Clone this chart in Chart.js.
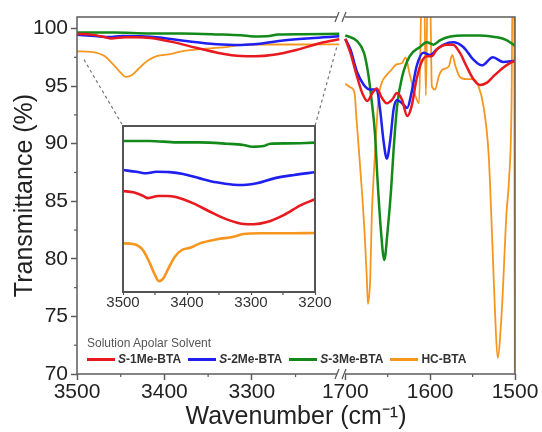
<!DOCTYPE html>
<html lang="en">
<head>
<meta charset="UTF-8">
<title>FTIR Transmittance</title>
<script src="https://cdn.jsdelivr.net/npm/chart.js"></script>
<style>
  body { margin: 0; background: #fff; }
  .wrap { position: relative; width: 542px; height: 432px; font-family: "Liberation Sans", Arial, sans-serif; }
  #mainChart { position: absolute; left: 0; top: 0; }
  #insetChart { position: absolute; left: 103px; top: 120px; }
  .legend { position: absolute; left: 87px; top: 335px; color: #333; }
  .legend-title { font-size: 12px; line-height: 16px; color: #555; }
  .legend-row { display: flex; align-items: center; font-size: 12px; line-height: 16px; font-weight: bold; }
  .legend-item { display: flex; align-items: center; margin-right: 7px; }
  .legend-line { width: 28px; height: 3px; margin-right: 3px; }
</style>
</head>
<body>
<div class="wrap">
  <canvas id="mainChart" width="542" height="432"></canvas>
  <canvas id="insetChart" width="232" height="200"></canvas>
  <div class="legend">
    <div class="legend-title">Solution Apolar Solvent</div>
    <div class="legend-row" id="legendRow"></div>
  </div>
</div>

<script>
const FONT = '"Liberation Sans", Arial, sans-serif';

const seriesNames = ['S-1Me-BTA', 'S-2Me-BTA', 'S-3Me-BTA', 'HC-BTA'];
const seriesColors = ['#e8191f', '#1f1fef', '#13891a', '#f7961f'];

// 3500-3200 cm-1 (also shown in the inset)
const redLeftX = [3500, 3484, 3469, 3461, 3445, 3432, 3416, 3390, 3364, 3338, 3312, 3296, 3275, 3249, 3222, 3200];
const redLeftY = [99.55, 99.47, 99.27, 99.13, 99.25, 99.25, 99.18, 98.82, 98.33, 97.88, 97.61, 97.59, 97.72, 98.13, 98.72, 99.06];
const blueLeftX = [3500, 3479, 3463, 3448, 3427, 3406, 3380, 3354, 3327, 3312, 3291, 3264, 3233, 3200];
const blueLeftY = [99.45, 99.35, 99.26, 99.35, 99.33, 99.22, 98.96, 98.73, 98.59, 98.57, 98.67, 98.96, 99.16, 99.32];
const greenLeftX = [3500, 3458, 3416, 3380, 3338, 3312, 3298, 3280, 3270, 3243, 3200];
const greenLeftY = [99.65, 99.65, 99.57, 99.57, 99.49, 99.41, 99.31, 99.35, 99.49, 99.51, 99.55];
const orangeLeftX = [3500, 3484, 3469, 3458, 3450, 3444, 3437, 3429, 3419, 3408, 3395, 3380, 3353, 3327, 3312, 3285, 3249, 3200];
const orangeLeftY = [98.02, 97.98, 97.63, 96.84, 96.16, 95.80, 95.96, 96.55, 97.23, 97.63, 97.76, 98.02, 98.26, 98.41, 98.57, 98.61, 98.61, 98.63];

// 1700-1500 cm-1
const redRightX = [1700, 1694, 1686, 1680, 1674, 1668, 1663, 1657, 1651, 1645, 1639, 1633, 1627, 1622, 1616, 1610, 1604, 1598, 1592, 1580, 1573, 1565, 1557, 1549, 1541, 1533, 1526, 1514, 1506, 1500];
const redRightY = [99.1, 97.9, 95.8, 94.4, 93.7, 94.4, 94.8, 94.0, 93.5, 93.8, 94.4, 93.8, 92.4, 93.2, 95.6, 97.1, 97.6, 97.6, 98.2, 98.6, 98.6, 97.9, 96.7, 95.6, 95.1, 95.3, 95.8, 96.6, 97.0, 97.2];
const blueRightX = [1700, 1694, 1686, 1678, 1671, 1663, 1659, 1655, 1651, 1647, 1643, 1639, 1633, 1627, 1622, 1616, 1608, 1600, 1592, 1584, 1573, 1561, 1549, 1539, 1526, 1514, 1500];
const blueRightY = [99.1, 98.2, 96.2, 95.1, 94.7, 94.7, 93.0, 90.3, 88.7, 90.3, 93.0, 93.8, 93.5, 93.1, 94.4, 96.7, 97.9, 97.7, 98.2, 98.6, 98.8, 98.4, 97.3, 96.8, 97.5, 97.1, 97.2];
const greenRightX = [1700, 1686, 1678, 1673, 1669, 1665, 1662, 1658, 1654, 1650, 1646, 1643, 1639, 1633, 1624, 1612, 1604, 1596, 1588, 1576, 1561, 1541, 1522, 1510, 1500];
const greenRightY = [99.4, 98.9, 97.9, 96.1, 93.8, 90.9, 86.9, 82.5, 79.9, 82.5, 86.0, 89.5, 93.2, 95.8, 97.6, 98.4, 98.8, 98.6, 99.0, 99.3, 99.4, 99.4, 99.25, 99.0, 98.5];
const orangeRightX = [1700, 1694, 1689, 1687, 1684, 1680, 1677, 1674.5, 1673.3, 1670.6, 1668.6, 1666.7, 1664.7, 1661, 1657, 1653, 1647, 1639, 1633, 1629, 1624, 1618, 1613, 1610, 1607, 1605, 1603, 1600, 1598, 1594, 1590, 1586, 1578, 1574, 1570, 1565, 1557, 1549, 1543, 1537, 1531, 1527, 1523.5, 1520.5, 1515.7, 1510, 1507, 1504, 1503, 1501, 1500];
const orangeRightY = [95.2, 94.9, 94.4, 92.4, 89.5, 85.5, 82.0, 78.2, 76.1, 78.2, 84.0, 86.9, 89.5, 93.8, 95.3, 95.8, 96.3, 96.9, 97.0, 97.5, 96.0, 94.3, 93.5, 103, 103, 94.2, 103, 103, 95.0, 94.7, 95.8, 96.4, 96.7, 97.7, 96.7, 95.8, 95.6, 95.6, 95.0, 93.2, 89.0, 82.0, 75.3, 71.4, 75.3, 84.0, 86.9, 93.8, 103, 103, 60];

// inset spreads the curves apart
const insetShift = [-3.37, -2.04, -0.53, -4.92];

// ticks
const yTicks = [70, 75, 80, 85, 90, 95, 100];
const yMinorTicks = [72.5, 77.5, 82.5, 87.5, 92.5, 97.5];
const leftTicks = [3500, 3400, 3300];
const leftMinorTicks = [3450, 3350, 3250];
const rightTicks = [1700, 1600, 1500];
const rightMinorTicks = [1650, 1550];
const insetTicks = [3500, 3400, 3300, 3200];
const insetMinorTicks = [3450, 3350, 3250];

// where the dashed zoom lines start on the main plot
const zoomLinkFrom = [[3492, 97.3], [3203, 98.35]];

const leftX = [redLeftX, blueLeftX, greenLeftX, orangeLeftX];
const leftY = [redLeftY, blueLeftY, greenLeftY, orangeLeftY];
const rightX = [redRightX, blueRightX, greenRightX, orangeRightX];
const rightY = [redRightY, blueRightY, greenRightY, orangeRightY];

function points(xs, ys, shift) {
    return xs.map((x, i) => ({ x: x, y: ys[i] + (shift || 0) }));
}

function fixedTicks(values) {
    return scale => { scale.ticks = values.map(v => ({ value: v })); };
}

function minorTicksX(ctx, scale, values, y, len) {
    values.forEach(v => {
        const px = scale.getPixelForValue(v);
        ctx.beginPath();
        ctx.moveTo(px, y);
        ctx.lineTo(px, y + len);
        ctx.stroke();
    });
}

// legend (HTML so the S can be italic)
const legendRow = document.getElementById('legendRow');
seriesNames.forEach((name, i) => {
    const item = document.createElement('div');
    item.className = 'legend-item';
    const line = document.createElement('span');
    line.className = 'legend-line';
    line.style.background = seriesColors[i];
    const text = document.createElement('span');
    if (name.startsWith('S-')) {
        text.innerHTML = '<i>S</i>' + name.slice(1);
    } else {
        text.textContent = name;
    }
    item.appendChild(line);
    item.appendChild(text);
    legendRow.appendChild(item);
});

// ---------- inset ----------
const insetFrame = {
    id: 'insetFrame',
    afterDatasetsDraw(chart) {
        const { ctx, chartArea: a } = chart;
        ctx.save();
        ctx.strokeStyle = '#555';
        ctx.lineWidth = 2;
        ctx.strokeRect(a.left, a.top, a.width, a.height);
        ctx.lineWidth = 1.2;
        minorTicksX(ctx, chart.scales.x, insetMinorTicks, a.bottom, 3);
        ctx.restore();
    }
};

const insetChart = new Chart(document.getElementById('insetChart'), {
    type: 'line',
    data: {
        datasets: seriesNames.map((name, i) => ({
            label: name,
            data: points(leftX[i], leftY[i], insetShift[i]),
            borderColor: seriesColors[i],
            borderWidth: 2.6,
            pointRadius: 0,
            cubicInterpolationMode: 'monotone'
        }))
    },
    options: {
        responsive: false,
        animation: false,
        events: [],
        layout: { padding: { left: 20, right: 20, top: 6, bottom: 0 } },
        plugins: { legend: { display: false }, tooltip: { enabled: false } },
        scales: {
            x: {
                type: 'linear',
                reverse: true,
                min: 3200,
                max: 3500,
                afterBuildTicks: fixedTicks(insetTicks),
                afterFit: s => { s.height = 28; },
                ticks: {
                    font: { family: FONT, size: 15, lineHeight: 1 },
                    color: '#333', padding: 0, maxRotation: 0, autoSkip: false,
                    callback: v => String(v)
                },
                grid: { drawOnChartArea: false, tickLength: 3, tickWidth: 1.2, tickColor: '#555' },
                border: { display: false }
            },
            y: { display: false, min: 90.24, max: 100 }
        }
    },
    plugins: [insetFrame]
});

// ---------- main chart ----------
const mainDecor = {
    id: 'mainDecor',
    afterDatasetsDraw(chart) {
        const { ctx, chartArea: a, scales } = chart;
        ctx.save();
        ctx.strokeStyle = '#5c5c5c';
        ctx.lineWidth = 1.5;
        ctx.strokeRect(a.left, a.top, a.width, a.height);

        // minor ticks
        ctx.lineWidth = 1.2;
        yMinorTicks.forEach(v => {
            const py = scales.y.getPixelForValue(v);
            ctx.beginPath();
            ctx.moveTo(a.left - 3, py);
            ctx.lineTo(a.left, py);
            ctx.stroke();
        });
        minorTicksX(ctx, scales.x1, leftMinorTicks, a.bottom, 3);
        minorTicksX(ctx, scales.x2, rightMinorTicks, a.bottom, 3);

        // axis break marks
        const bx = scales.x1.right;
        [a.top, a.bottom].forEach(y => {
            ctx.fillStyle = '#fff';
            ctx.fillRect(bx - 4, y - 2, 8, 4);
            ctx.strokeStyle = '#5c5c5c';
            ctx.lineWidth = 1.3;
            ctx.beginPath();
            ctx.moveTo(bx - 6, y + 5);
            ctx.lineTo(bx - 2, y - 5);
            ctx.moveTo(bx + 1, y + 5);
            ctx.lineTo(bx + 5, y - 5);
            ctx.stroke();
        });

        // dashed lines to the inset
        const ic = insetChart.canvas;
        const ia = insetChart.chartArea;
        const ends = [
            [ic.offsetLeft + ia.left, ic.offsetTop + ia.top],
            [ic.offsetLeft + ia.right, ic.offsetTop + ia.top]
        ];
        ctx.setLineDash([3, 3]);
        ctx.strokeStyle = '#777';
        ctx.lineWidth = 1.2;
        zoomLinkFrom.forEach((p, i) => {
            ctx.beginPath();
            ctx.moveTo(scales.x1.getPixelForValue(p[0]), scales.y.getPixelForValue(p[1]));
            ctx.lineTo(ends[i][0], ends[i][1]);
            ctx.stroke();
        });
        ctx.restore();
    }
};

const mainDatasets = [];
seriesNames.forEach((name, i) => {
    const common = {
        label: name,
        borderColor: seriesColors[i],
        borderWidth: i === 3 ? 1.8 : 2.5,
        pointRadius: 0,
        cubicInterpolationMode: 'monotone',
        yAxisID: 'y'
    };
    mainDatasets.push(Object.assign({ data: points(leftX[i], leftY[i]), xAxisID: 'x1' }, common));
    mainDatasets.push(Object.assign({ data: points(rightX[i], rightY[i]), xAxisID: 'x2' }, common));
});

function mainXAxis(min, max, weight, tickValues) {
    return {
        type: 'linear',
        position: 'bottom',
        stack: 'wn',
        stackWeight: weight,
        reverse: true,
        min: min,
        max: max,
        afterBuildTicks: fixedTicks(tickValues),
        afterFit: s => { s.height = 28; },
        ticks: {
            font: { family: FONT, size: 21, lineHeight: 1.1 },
            color: '#222', padding: 1, maxRotation: 0, autoSkip: false,
            callback: v => String(v)
        },
        grid: { drawOnChartArea: false, tickLength: 6, tickWidth: 1.5, tickColor: '#5c5c5c' },
        border: { display: false }
    };
}

new Chart(document.getElementById('mainChart'), {
    type: 'line',
    data: { datasets: mainDatasets },
    options: {
        responsive: false,
        animation: false,
        events: [],
        layout: { padding: { left: 0, right: 27, top: 17, bottom: 0 } },
        plugins: {
            legend: { display: false },
            tooltip: { enabled: false },
            title: {
                display: true,
                position: 'bottom',
                fullSize: false,
                text: 'Wavenumber (cm\u207B\u00B9)',
                font: { family: FONT, size: 25, weight: 'normal', lineHeight: 1.2 },
                color: '#222',
                padding: 0
            }
        },
        scales: {
            x1: mainXAxis(3198, 3500, 264, leftTicks),
            x2: mainXAxis(1500, 1705, 174, rightTicks),
            y: {
                min: 70,
                max: 101,
                afterBuildTicks: fixedTicks(yTicks),
                afterFit: s => { s.width = 77; },
                ticks: {
                    font: { family: FONT, size: 21, lineHeight: 1.1 },
                    color: '#222', padding: 3,
                    callback: v => String(v)
                },
                grid: { drawOnChartArea: false, tickLength: 6, tickWidth: 1.5, tickColor: '#5c5c5c' },
                border: { display: false },
                title: {
                    display: true,
                    text: 'Transmittance (%)',
                    font: { family: FONT, size: 25, lineHeight: 1.2 },
                    color: '#222',
                    padding: { top: 10, bottom: 0 }
                }
            }
        }
    },
    plugins: [mainDecor]
});
</script>
</body>
</html>
